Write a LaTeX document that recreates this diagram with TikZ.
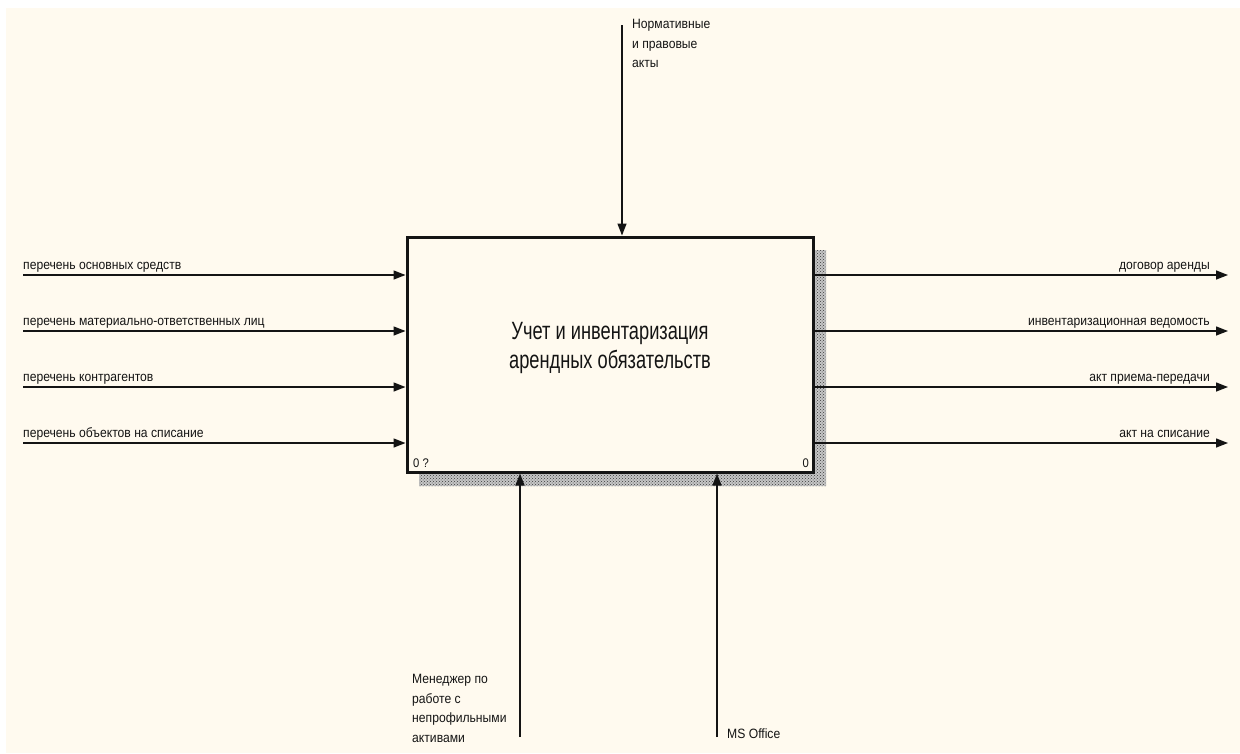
\documentclass[tikz,border=0pt]{standalone}
\usepackage{fontspec}
\setmainfont[FakeStretch=0.9]{Liberation Sans}
\newfontfamily\titlefont[FakeStretch=0.73]{Liberation Sans}
\usetikzlibrary{arrows.meta,patterns}

\definecolor{paper}{RGB}{255,250,239}
\definecolor{ink}{RGB}{20,20,20}

\tikzset{
  flow/.style={draw=ink, line width=1.4pt, -{Triangle[length=12pt,width=9pt]}},
  lbl/.style={inner sep=0pt, font=\fontsize{13.5}{19.7}\selectfont, text=ink},
  mlbl/.style={lbl, align=left},
  funcbox/.style={draw=ink, line width=3pt, fill=paper, inner sep=0pt,
    minimum width=406pt, minimum height=235pt},
  shadebase/.style={fill=gray!45},
  shade/.style={pattern=crosshatch dots, pattern color=gray!45!black},
  corner/.style={inner sep=0pt, font=\fontsize{12.5}{14}\selectfont, text=ink}
}

\begin{document}
\begin{tikzpicture}[x=1pt,y=-1pt]
  % page and canvas
  \useasboundingbox (0,0) rectangle (1240,753);
  \fill[white] (0,0) rectangle (1240,753);
  \fill[paper] (6,8) rectangle (1240,753);

  % drop shadow of the activity box
  \fill[shadebase] (813,250) -- (826,250) -- (826,486) -- (419,486) -- (419,472) -- (813,472) -- cycle;
  \fill[shade] (813,250) -- (826,250) -- (826,486) -- (419,486) -- (419,472) -- (813,472) -- cycle;

  % activity box
  \node[funcbox] (F) at (610,354.5) {};
  \node[inner sep=0pt, align=center, font=\titlefont\fontsize{25}{29}\selectfont, text=ink]
    (Ft) at (610,348) {Учет и инвентаризация\\арендных обязательств};
  \node[corner, anchor=south west] (Fn) at (413,468) {0 ?};
  \node[corner, anchor=south east] (Fc) at (809,468) {0};

  % inputs
  \coordinate (i1) at (23,275);
  \coordinate (i2) at (23,331);
  \coordinate (i3) at (23,387);
  \coordinate (i4) at (23,443);
  \foreach \c/\t in {i1/перечень основных средств,
                     i2/перечень материально-ответственных лиц,
                     i3/перечень контрагентов,
                     i4/перечень объектов на списание}{
    \draw[flow] (\c) -- (\c -| F.west);
    \node[lbl, anchor=base west] (l\c) at ([yshift=6pt]\c) {\t};
  }

  % outputs
  \coordinate (o1) at (1228,275);
  \coordinate (o2) at (1228,331);
  \coordinate (o3) at (1228,387);
  \coordinate (o4) at (1228,443);
  \foreach \c/\t in {o1/договор аренды,
                     o2/инвентаризационная ведомость,
                     o3/акт приема-передачи,
                     o4/акт на списание}{
    \draw[flow] (\c -| F.east) -- (\c);
    \node[lbl, anchor=base east] (l\c) at ([xshift=-18pt,yshift=6pt]\c) {\t};
  }

  % control
  \coordinate (c1) at (622,25);
  \draw[flow] (c1) -- (c1 |- F.north);
  \node[mlbl, anchor=north west] (lc1) at (632,19) {Нормативные\\и правовые\\акты};

  % mechanisms
  \coordinate (m1) at (520,737);
  \coordinate (m2) at (717,737);
  \draw[flow] (m1) -- (m1 |- F.south);
  \draw[flow] (m2) -- (m2 |- F.south);
  \node[mlbl, anchor=north west] (lm1) at (412,674) {Менеджер по\\работе с\\непрофильными\\активами};
  \node[lbl, anchor=base west] (lm2) at (727,738) {MS Office};
\end{tikzpicture}
\end{document}
